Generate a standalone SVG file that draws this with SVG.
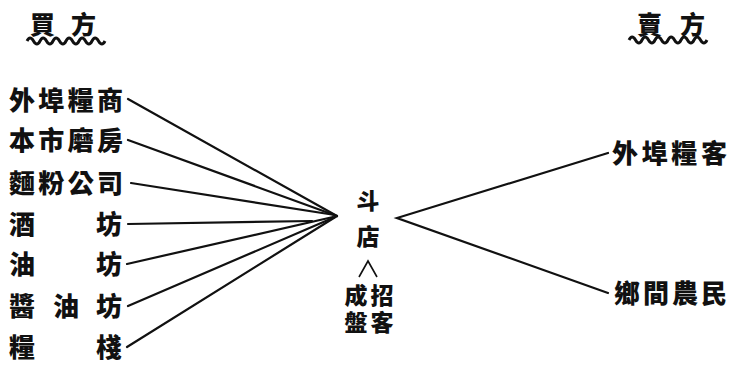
<svg xmlns="http://www.w3.org/2000/svg" width="730" height="368" viewBox="0 0 730 368">
<style>
text{font-family:"Noto Sans CJK TC","Noto Sans CJK SC",sans-serif;font-weight:900;fill:#111}
.l{font-size:26px}
.c{font-size:23px;text-anchor:middle}
.h{font-size:25px}
.ln{stroke:#111;stroke-width:2.2;fill:none;stroke-linecap:round}
.w{stroke:#111;stroke-width:3;fill:none}
</style>
<rect width="730" height="368" fill="#fff"/>
<g id="buyers-title">
<text class="h" x="30" y="34">買</text>
<text class="h" x="71" y="34">方</text>
<path class="w" d="M27 41 q3 -6 6.5 0 t6.5 0 t6.5 0 t6.5 0 t6.5 0 t6.5 0 t6.5 0 t6.5 0 t6.5 0 t6.5 0 t6.5 0 t6.5 0"/>
</g>
<g id="sellers-title">
<text class="h" x="637" y="34">賣</text>
<text class="h" x="680" y="34">方</text>
<path class="w" d="M629 40 q3 -6 6.5 0 t6.5 0 t6.5 0 t6.5 0 t6.5 0 t6.5 0 t6.5 0 t6.5 0 t6.5 0 t6.5 0 t6.5 0 t6.5 0"/>
</g>
<g id="n1"><text class="l" x="9" y="110" textLength="114" lengthAdjust="spacing">外埠糧商</text></g>
<g id="n2"><text class="l" x="9" y="150" textLength="114" lengthAdjust="spacing">本市磨房</text></g>
<g id="n3"><text class="l" x="9" y="193" textLength="114" lengthAdjust="spacing">麵粉公司</text></g>
<g id="n4"><text class="l" x="9" y="234">酒</text><text class="l" x="96" y="234">坊</text></g>
<g id="n5"><text class="l" x="9" y="274">油</text><text class="l" x="96" y="274">坊</text></g>
<g id="n6"><text class="l" x="9" y="316">醬</text><text class="l" x="53" y="316">油</text><text class="l" x="96" y="316">坊</text></g>
<g id="n7"><text class="l" x="9" y="357">糧</text><text class="l" x="96" y="357">棧</text></g>
<g id="center">
<text class="c" x="368" y="209">斗</text>
<text class="c" x="368" y="245">店</text>
<path d="M359 277 L368 261 L377 277" stroke="#111" stroke-width="1.6" fill="none"/>
<text class="c" x="356" y="304">成</text>
<text class="c" x="382" y="304">招</text>
<text class="c" x="356" y="331">盤</text>
<text class="c" x="382" y="331">客</text>
</g>
<g id="r1"><text class="l" x="612" y="163" textLength="115" lengthAdjust="spacing">外埠糧客</text></g>
<g id="r2"><text class="l" x="614" y="303" textLength="113" lengthAdjust="spacing">鄉間農民</text></g>
<g id="connectors">
<path class="ln" d="M128 99 L337 216"/>
<path class="ln" d="M128 140 L337 216"/>
<path class="ln" d="M131 183 L335 215"/>
<path class="ln" d="M128 224 L312 221"/>
<path class="ln" d="M127 264 L333 217"/>
<path class="ln" d="M128 306 L335 217"/>
<path class="ln" d="M127 347 L337 216"/>
<path class="ln" d="M608 153 L397 218 L608 293"/>
</g>
</svg>
